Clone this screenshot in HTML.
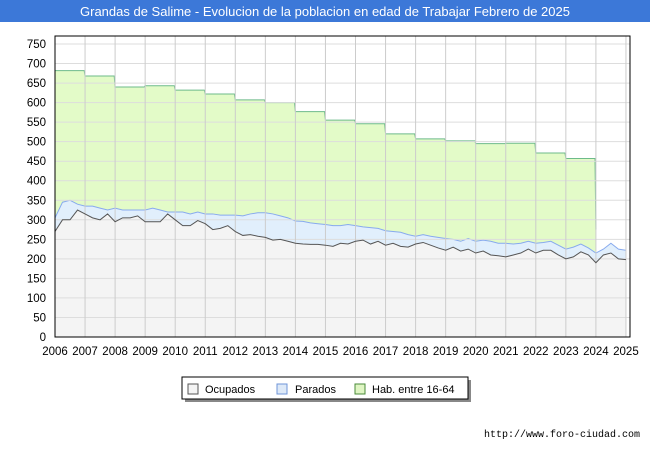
<!DOCTYPE html>
<html><head><meta charset="utf-8"><style>
body{margin:0;width:650px;height:450px;background:#fff;font-family:"Liberation Sans",sans-serif;overflow:hidden}
</style></head><body>
<svg id="c" width="650" height="450" xmlns="http://www.w3.org/2000/svg">
<rect x="0" y="0" width="650" height="22" fill="#3c78d8"/>
<text x="325" y="16" text-anchor="middle" fill="#fff" font-size="13">Grandas de Salime - Evolucion de la poblacion en edad de Trabajar Febrero de 2025</text>
<g id="plot"></g>
<g>
<rect x="185" y="380" width="286" height="22" fill="#888"/>
<rect x="182" y="377" width="286" height="22" fill="#fff" stroke="#000"/>
<rect x="188" y="384" width="10" height="10" fill="#f4f4f4" stroke="#555"/>
<text x="205" y="393" font-size="11">Ocupados</text>
<rect x="277" y="384" width="10" height="10" fill="#dde9f8" stroke="#6f95d8"/>
<text x="295" y="393" font-size="11">Parados</text>
<rect x="355" y="384" width="10" height="10" fill="#dff5c3" stroke="#4a8a3a"/>
<text x="372" y="393" font-size="11">Hab. entre 16-64</text>
</g>
<text x="640" y="437" text-anchor="end" font-size="10" font-family="Liberation Mono, monospace">http://www.foro-ciudad.com</text>
</svg>
<script>
const years=[2006,2007,2008,2009,2010,2011,2012,2013,2014,2015,2016,2017,2018,2019,2020,2021,2022,2023,2024,2025];
const yTicks=[0,50,100,150,200,250,300,350,400,450,500,550,600,650,700,750];
const habYears=[2006,2007,2008,2009,2010,2011,2012,2013,2014,2015,2016,2017,2018,2019,2020,2021,2022,2023];
const habValues=[682,668,640,643,632,622,607,600,577,555,546,520,507,502,495,496,471,457];
const ocupados=[270,300,300,325,315,305,300,315,295,305,305,310,295,295,295,315,300,285,285,298,290,275,278,285,270,260,262,258,255,248,250,245,240,238,237,237,235,232,240,238,245,248,238,245,235,240,232,230,238,242,235,228,222,230,220,225,215,220,210,208,205,210,215,225,215,222,222,210,200,205,218,210,190,210,215,200,198];
const totalActivos=[305,345,350,340,335,335,330,325,330,325,325,325,325,330,325,320,320,320,315,320,315,315,312,312,312,310,315,318,318,315,310,305,297,296,292,290,288,285,285,288,285,282,280,278,272,270,268,262,258,262,258,255,252,250,245,252,245,248,245,240,240,238,240,245,240,242,245,235,225,230,238,228,215,225,240,225,222];
const X0=55,X1=630,Y0=337,YT=36;
const xs=t=>55+(t-2006)*30.05;
const ys=v=>Y0-v*(337-44)/750;
const NS='http://www.w3.org/2000/svg';
const g=document.getElementById('plot');
function mk(tag,attrs){const e=document.createElementNS(NS,tag);for(const k in attrs)e.setAttribute(k,attrs[k]);g.appendChild(e);return e;}
mk('rect',{x:X0,y:YT,width:X1-X0,height:Y0-YT,fill:'#fff'});
const tOf=i=>2006+i*0.25;
// hab area
let hp=`M${xs(2006)},${Y0}`;
habValues.forEach((v,i)=>{hp+=` L${xs(habYears[i])},${ys(v)} L${xs(habYears[i]+0.97)},${ys(v)}`;});
hp+=` L${xs(2024)},${ys(275)} L${xs(2024)},${Y0} Z`;
const hab=mk('path',{d:hp,fill:'#e3fbc8',stroke:'none'});


let hl=`M${xs(2006)},${ys(habValues[0])}`;
habValues.forEach((v,i)=>{hl+=` L${xs(habYears[i])},${ys(v)} L${xs(habYears[i]+0.97)},${ys(v)}`;});
hl+=` L${xs(2024)},${ys(275)}`;
const hline=mk('path',{d:hl,fill:'none',stroke:'#6dbb8a','stroke-width':1});


// total area
let tp=`M${xs(2006)},${Y0}`,tl='';
totalActivos.forEach((v,i)=>{tp+=` L${xs(tOf(i))},${ys(v)}`;tl+=(i?' L':'M')+`${xs(tOf(i))},${ys(v)}`;});
tp+=` L${xs(tOf(totalActivos.length-1))},${Y0} Z`;
const par=mk('path',{d:tp,fill:'#e1effc'});


const pl=mk('path',{d:tl,fill:'none',stroke:'#88aaee','stroke-width':1});


let op=`M${xs(2006)},${Y0}`,ol='';
ocupados.forEach((v,i)=>{op+=` L${xs(tOf(i))},${ys(v)}`;ol+=(i?' L':'M')+`${xs(tOf(i))},${ys(v)}`;});
op+=` L${xs(tOf(ocupados.length-1))},${Y0} Z`;
const oc=mk('path',{d:op,fill:'#f4f4f4'});


// grid
yTicks.forEach(v=>{
 const l=mk('line',{x1:X0,x2:X1,y1:ys(v),y2:ys(v),stroke:'#ddd','stroke-width':1});
 
 
 const t=mk('text',{x:46,y:ys(v)+4,'text-anchor':'end','font-size':11.5});
 t.textContent=v;
 
 
});
years.forEach(y=>{
 const l=mk('line',{x1:xs(y),x2:xs(y),y1:YT,y2:Y0,stroke:'#ccc','stroke-width':1});
 
 
 const t=mk('text',{x:xs(y),y:355,'text-anchor':'middle','font-size':11.5});
 t.textContent=y;
 
 
});
const ol2=mk('path',{d:ol,fill:'none',stroke:'#555','stroke-width':1});


const fr=mk('rect',{x:X0,y:YT,width:X1-X0,height:Y0-YT,fill:'none',stroke:'#000'});


</script>
</body></html>
